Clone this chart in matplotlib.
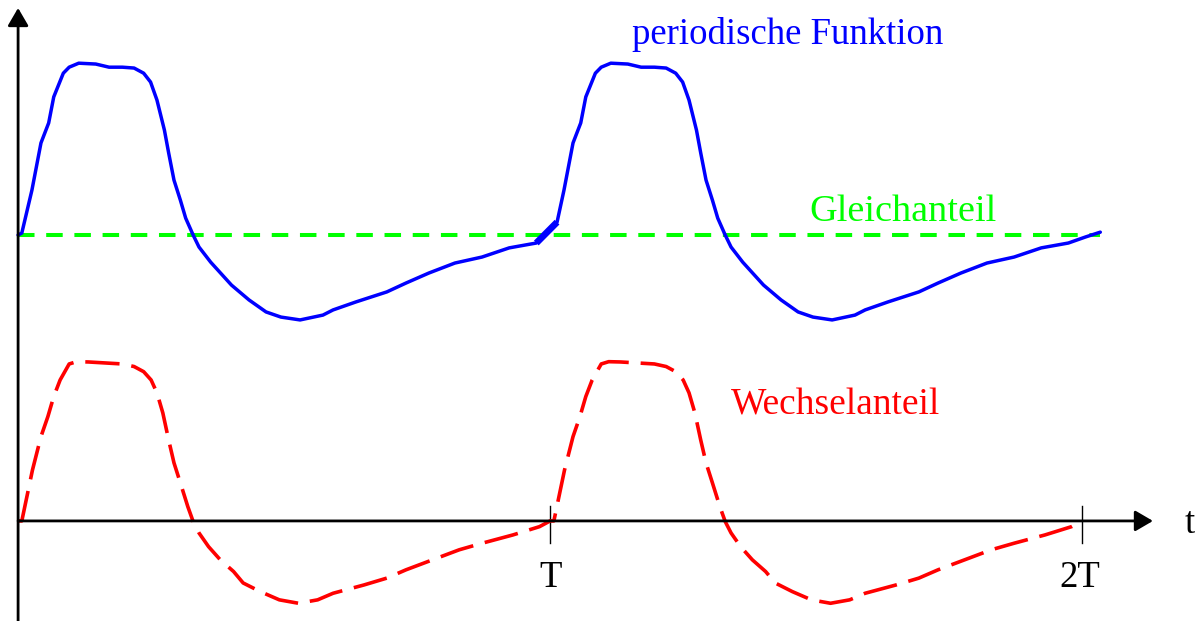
#!/usr/bin/env python3
"""Periodische Funktion: Gleichanteil und Wechselanteil (Skizze)."""

import matplotlib

matplotlib.use("Agg")
import matplotlib.pyplot as plt

# time in units of the period T, amplitude in units of the DC level
T = 1.0
DC = 1.0

blue_t = [0.0, 0.007, 0.026, 0.043, 0.0575, 0.067, 0.085, 0.096, 0.114, 0.146,
          0.171, 0.196, 0.218, 0.236, 0.249, 0.261, 0.275, 0.283, 0.293, 0.305,
          0.315, 0.329, 0.340, 0.362, 0.401, 0.434, 0.466, 0.494, 0.530, 0.573,
          0.592, 0.635, 0.693, 0.729, 0.772, 0.821, 0.872, 0.923, 0.974]
blue_y = [1.000, 1.007, 1.157, 1.322, 1.392, 1.483, 1.566, 1.587, 1.601, 1.598,
          1.587, 1.587, 1.584, 1.566, 1.535, 1.472, 1.367, 1.287, 1.192, 1.122,
          1.059, 1.000, 0.958, 0.905, 0.825, 0.773, 0.731, 0.713, 0.703, 0.720,
          0.738, 0.766, 0.801, 0.832, 0.867, 0.902, 0.923, 0.955, 0.972]

# hand-drawn joint between the two periods and the tail after 2T
joint_t = [0.974, 1.013]
joint_y = [0.972, 1.045]
tail_t = [1.974, 2.006, 2.034]
tail_y = [0.972, 0.993, 1.010]

red_t = [0.0, 0.007, 0.027, 0.043, 0.056, 0.067, 0.079, 0.096, 0.110, 0.132,
         0.196, 0.218, 0.236, 0.250, 0.261, 0.272, 0.283, 0.293, 0.305, 0.319,
         0.329, 0.340, 0.358, 0.380, 0.405, 0.423, 0.455, 0.491, 0.527, 0.563,
         0.592, 0.650, 0.693, 0.729, 0.779, 0.829, 0.872, 0.930, 0.980, 1.000]
red_y = [0.000, 0.000, 0.178, 0.295, 0.365, 0.435, 0.493, 0.549, 0.557, 0.556,
         0.549, 0.540, 0.522, 0.493, 0.448, 0.378, 0.283, 0.203, 0.133, 0.050,
         -0.002, -0.042, -0.090, -0.136, -0.177, -0.217, -0.247, -0.276, -0.288, -0.276,
         -0.253, -0.224, -0.200, -0.171, -0.136, -0.101, -0.078, -0.049, -0.020, 0.000]

tick_values = [1.0, 2.0]
tick_labels = ["T", "2T"]

BLUE = "#0000FF"
RED = "#FF0000"
GREEN = "#00FF00"
FONT = ["Liberation Serif", "DejaVu Serif"]
FS = 26.5

plt.rcParams["font.family"] = FONT

fig = plt.figure(figsize=(11.95, 6.21), dpi=100)
ax = fig.add_axes([0, 0, 1, 1])
ax.set_xlim(-0.034, 2.212)
ax.set_ylim(-0.350, 1.822)
ax.axis("off")

# axes with arrow heads
arrow = dict(arrowstyle="-|>,head_length=0.6,head_width=0.35", color="black",
             lw=2.0, shrinkA=0, shrinkB=0, mutation_scale=18)
ax.annotate("", xy=(0.0, 1.794), xytext=(0.0, -0.40), arrowprops=arrow)
ax.annotate("", xy=(2.133, 0.0), xytext=(0.0, 0.0), arrowprops=arrow)
for tv, lab in zip(tick_values, tick_labels):
    ax.plot([tv * T, tv * T], [0.052, -0.077], color="black", lw=1.0)
    ax.text(tv * T - (0.005 if lab == "2T" else 0.0), -0.231, lab,
            ha="center", va="baseline", fontsize=FS, color="black")
ax.text(2.192, -0.042, "t", ha="left", va="baseline", fontsize=FS, color="black")

# DC component
ax.plot([0.0, 2.034], [DC, DC], color=GREEN, lw=2.9, dashes=(4.1, 2.9),
        dash_capstyle="butt")

# periodic function: two periods
blue_full_t = blue_t + [joint_t[1]] + [t + T for t in blue_t[2:]] + tail_t[1:]
blue_full_y = blue_y + [joint_y[1]] + blue_y[2:] + tail_y[1:]
ax.plot(blue_full_t, blue_full_y, color=BLUE, lw=2.5, solid_joinstyle="round",
        solid_capstyle="round")
ax.plot(joint_t, joint_y, color=BLUE, lw=4.8, solid_capstyle="butt")

# AC component
red_full_t = red_t + [t + T for t in red_t[1:]]
red_full_y = red_y + red_y[1:]
ax.plot(red_full_t, red_full_y, color=RED, lw=2.6, dashes=(9.5, 3.3),
        dash_capstyle="butt", dash_joinstyle="round")

ax.text(1.154, 1.668, "periodische Funktion", ha="left", va="baseline",
        fontsize=FS, color=BLUE)
ax.text(1.487, 1.049, "Gleichanteil", ha="left", va="baseline",
        fontsize=FS + 1, color=GREEN)
ax.text(1.339, 0.372, "Wechselanteil", ha="left", va="baseline",
        fontsize=FS + 0.5, color=RED)

fig.savefig("out.png", dpi=100)
plt.close(fig)
